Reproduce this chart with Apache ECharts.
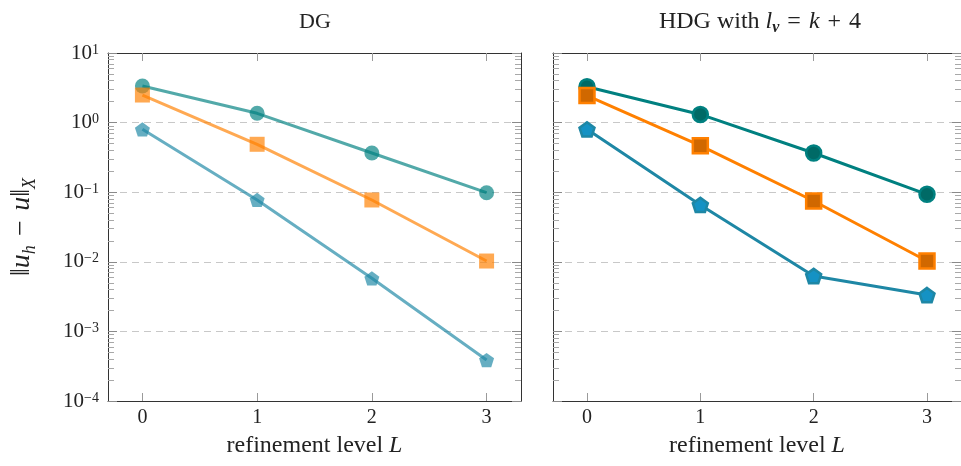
<!DOCTYPE html>
<html>
<head>
<meta charset="utf-8">
<script src="https://cdn.jsdelivr.net/npm/echarts@6/dist/echarts.min.js"></script>
<style>
  html, body { margin: 0; padding: 0; background: #fff; }
  #chart { width: 961px; height: 466px; }
</style>
</head>
<body>
<div id="chart"></div>
<script>
// Refinement levels on the x axis
const levels = [0, 1, 2, 3];

// Error norms, DG discretisation
const dgCircle   = [3.36, 1.36, 0.366, 0.0984];
const dgSquare   = [2.49, 0.488, 0.0773, 0.01026];
const dgPentagon = [0.80, 0.0773, 0.00579, 0.000388];

// Error norms, HDG discretisation with l_nu = k + 4
const hdgCircle   = [3.28, 1.31, 0.366, 0.0933];
const hdgSquare   = [2.45, 0.466, 0.0748, 0.01026];
const hdgPentagon = [0.80, 0.0655, 0.00625, 0.00333];

// Axis ticks
const xTicks = [0, 1, 2, 3];
const yMajor = [1e-4, 1e-3, 1e-2, 1e-1, 1e0, 1e1];
const yMinor = [];
for (let k = -4; k <= 0; k++) {
  for (let m = 2; m <= 9; m++) yMinor.push(+(m * Math.pow(10, k)).toPrecision(3));
}

const SERIF = '"Liberation Serif", "DejaVu Serif", serif';
const TEAL = '#008080', ORANGE = '#ff8000', BLUE = '#1e87a5';
const PENTAGON = 'path://M50,0 L97.55,34.55 L79.39,90.45 L20.61,90.45 L2.45,34.55 Z';
const SP = '\u2004'; // medium math space around operators

const chart = echarts.init(document.getElementById('chart'), null, { renderer: 'canvas' });

const grids = [
  { left: 108, top: 53, width: 413, height: 348 },
  { left: 553, top: 53, width: 413, height: 348 }
];

function xAxes(gi) {
  const base = {
    type: 'value', gridIndex: gi, min: -0.3, max: 3.3,
    axisLine: { show: true, onZero: false, lineStyle: { color: '#333', width: 1 } },
    axisTick: { show: true, inside: true, length: 8, customValues: xTicks, lineStyle: { color: '#9a9a9a' } },
    splitLine: { show: false }
  };
  return [
    Object.assign({}, base, {
      position: 'bottom',
      axisLabel: { show: true, customValues: xTicks, margin: 7, color: '#222', fontFamily: SERIF, fontSize: 20 },
      name: 'refinement level {i|L}',
      nameLocation: 'middle', nameGap: 33,
      nameTextStyle: {
        color: '#222', fontFamily: SERIF, fontSize: 24,
        rich: { i: { fontStyle: 'italic', fontFamily: SERIF, fontSize: 24, color: '#222' } }
      }
    }),
    Object.assign({}, base, { position: 'top', axisLabel: { show: false } })
  ];
}

function yAxes(gi) {
  const common = { type: 'log', logBase: 10, gridIndex: gi, min: 1e-4, max: 10 };
  const major = (pos, withLabels) => Object.assign({}, common, {
    position: pos,
    axisLine: { show: true, onZero: false, lineStyle: { color: '#333', width: 1 } },
    axisTick: { show: true, inside: true, length: 9, customValues: yMajor, lineStyle: { color: '#8a8a8a' } },
    axisLabel: withLabels ? {
      show: true, customValues: yMajor, margin: 9,
      formatter: v => {
        const e = Math.round(Math.log10(v));
        return '{b|10}{s|' + (e < 0 ? '\u2212' + (-e) : e) + '}';
      },
      rich: {
        b: { fontFamily: SERIF, fontSize: 21, lineHeight: 20, color: '#222' },
        s: { fontFamily: SERIF, fontSize: 14, lineHeight: 14, verticalAlign: 'top', color: '#222' }
      }
    } : { show: false },
    splitLine: pos === 'left'
      ? { show: true, lineStyle: { color: '#c8c8c8', width: 1, type: [7, 5] } }
      : { show: false }
  });
  const minor = pos => Object.assign({}, common, {
    position: pos,
    axisLine: { show: false, onZero: false },
    axisTick: { show: true, inside: true, length: 6, customValues: yMinor, lineStyle: { color: '#a8a8a8' } },
    axisLabel: { show: false },
    splitLine: { show: false }
  });
  const left = major('left', gi === 0);
  if (gi === 0) {
    left.name = '\u2016{i|u}{sub|h}' + SP + '\u2212' + SP + '{i|u}\u2016{sub|X}';
    left.nameLocation = 'middle';
    left.nameGap = 69;
    left.nameRotate = 90;
    left.nameTextStyle = {
      color: '#222', fontFamily: SERIF, fontSize: 28,
      rich: {
        i: { fontStyle: 'italic', fontFamily: SERIF, fontSize: 28, lineHeight: 34, color: '#222' },
        sub: { fontStyle: 'italic', fontFamily: SERIF, fontSize: 18, verticalAlign: 'bottom', lineHeight: 18, color: '#222' }
      }
    };
  }
  return [left, minor('left'), major('right', false), minor('right')];
}

function toPairs(vals) { return levels.map((l, i) => [l, vals[i]]); }

function dgSeries(vals, color, symbol, size) {
  return {
    type: 'line', xAxisIndex: 0, yAxisIndex: 0, data: toPairs(vals),
    symbol: symbol, symbolSize: size, symbolKeepAspect: true,
    lineStyle: { color: color, width: 3, opacity: 0.68 },
    itemStyle: { color: color, opacity: 0.68 },
    emphasis: { disabled: true }, animation: false, z: 3
  };
}

function hdgSeries(vals, color, fill, symbol, size) {
  return {
    type: 'line', xAxisIndex: 2, yAxisIndex: 4, data: toPairs(vals),
    symbol: symbol, symbolSize: size, symbolKeepAspect: true,
    lineStyle: { color: color, width: 3 },
    itemStyle: { color: fill, borderColor: color, borderWidth: 2.5 },
    emphasis: { disabled: true }, animation: false, z: 3
  };
}

chart.setOption({
  animation: false,
  backgroundColor: '#fff',
  grid: grids,
  xAxis: [...xAxes(0), ...xAxes(1)],
  yAxis: [...yAxes(0), ...yAxes(1)],
  graphic: [
    {
      type: 'text', x: 315, y: 22, z: 10,
      style: { text: 'DG', align: 'center', verticalAlign: 'middle', fontFamily: SERIF, fontSize: 22, fill: '#222' }
    },
    {
      type: 'text', x: 760, y: 22, z: 10,
      style: {
        text: 'HDG with {i|l}{sub|\u03bd}' + SP + '=' + SP + '{i|k}' + SP + '+' + SP + '4',
        align: 'center', verticalAlign: 'middle', fontFamily: SERIF, fontSize: 24, fill: '#222',
        rich: {
          i: { fontStyle: 'italic', fontFamily: SERIF, fontSize: 24, lineHeight: 28, fill: '#222' },
          sub: { fontStyle: 'italic', fontWeight: 'bold', fontFamily: SERIF, fontSize: 16, lineHeight: 16, verticalAlign: 'bottom', fill: '#222' }
        }
      }
    }
  ],
  series: [
    dgSeries(dgCircle, TEAL, 'circle', 15),
    dgSeries(dgSquare, ORANGE, 'rect', 15),
    dgSeries(dgPentagon, BLUE, PENTAGON, 15),
    hdgSeries(hdgCircle, TEAL, '#006a66', 'circle', 15),
    hdgSeries(hdgSquare, ORANGE, '#d06800', 'rect', 15),
    hdgSeries(hdgPentagon, BLUE, '#1592c4', PENTAGON, 15)
  ]
});
</script>
</body>
</html>
